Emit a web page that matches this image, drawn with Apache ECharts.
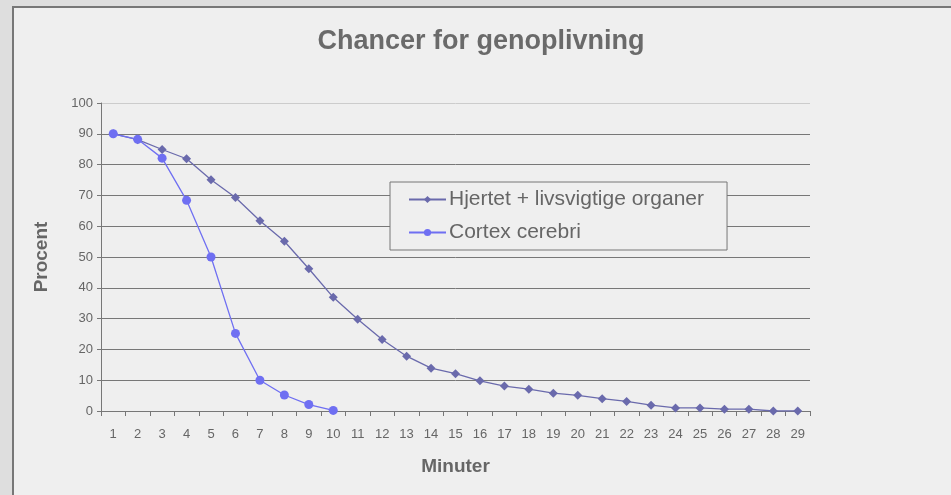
<!DOCTYPE html>
<html><head><meta charset="utf-8">
<script src="https://cdn.jsdelivr.net/npm/echarts@6/dist/echarts.min.js"></script>
<style>html,body{margin:0;padding:0;background:#dedede;}#c{width:951px;height:495px;}</style>
</head><body><div id="c"></div>
<script>
const categories = ['1','2','3','4','5','6','7','8','9','10','11','12','13','14','15','16','17','18','19','20','21','22','23','24','25','26','27','28','29'];
const hjertet = [90, 88.1, 84.9, 81.9, 75.1, 69.3, 61.8, 55.1, 46.2, 36.9, 29.8, 23.2, 17.8, 13.9, 12.1, 9.8, 8.1, 7.1, 5.8, 5.1, 4.0, 3.1, 1.9, 1.0, 1.0, 0.6, 0.6, 0, 0];
const cortex = [90, 88.2, 82.1, 68.4, 50.0, 25.2, 10.0, 5.2, 2.1, 0.2];
const yTicks = [0, 10, 20, 30, 40, 50, 60, 70, 80, 90, 100];

const chart = echarts.init(document.getElementById('c'), null, {renderer: 'canvas'});
const font = 'Liberation Sans, Arial, sans-serif';
chart.setOption({
  backgroundColor: '#dedede',
  animation: false,
  graphic: [{
    type: 'rect', z: -10, silent: true,
    shape: {x: 13, y: 7, width: 945, height: 500},
    style: {fill: '#efefef', stroke: '#777777', lineWidth: 2}
  }],
  title: {
    text: 'Chancer for genoplivning', top: 28, left: 481, textAlign: 'center',
    textStyle: {fontFamily: font, fontSize: 27, fontWeight: 'bold', color: '#6a6a6a'},
    padding: 0
  },
  legend: {
    orient: 'vertical', left: 390, top: 182, width: 337,
    padding: [7, 23, 7, 18], itemGap: 12,
    backgroundColor: '#efefef', borderColor: '#777777', borderWidth: 1,
    itemWidth: 37, itemHeight: 9,
    textStyle: {fontFamily: font, fontSize: 21, color: '#666666', padding: [0, 0, 0, -2]},
    data: [{name: 'Hjertet + livsvigtige organer'}, {name: 'Cortex cerebri'}]
  },
  grid: {left: 101, right: 141, top: 103, bottom: 84},
  xAxis: {
    type: 'category', data: categories, boundaryGap: true,
    name: 'Minuter', nameLocation: 'middle', nameGap: 46,
    nameTextStyle: {fontFamily: font, fontSize: 19, fontWeight: 'bold', color: '#666666'},
    axisLine: {lineStyle: {color: '#777777', width: 1}},
    axisTick: {show: true, alignWithLabel: false, length: 5, lineStyle: {color: '#777777'}},
    axisLabel: {fontFamily: font, fontSize: 13, color: '#666666', margin: 17, interval: 0},
    splitLine: {show: false}
  },
  yAxis: {
    type: 'value', min: 0, max: 100, interval: 10,
    name: 'Procent', nameLocation: 'middle', nameGap: 50, nameRotate: 90,
    nameTextStyle: {fontFamily: font, fontSize: 19, fontWeight: 'bold', color: '#666666'},
    axisLine: {show: true, lineStyle: {color: '#777777', width: 1}},
    axisTick: {show: true, length: 4, lineStyle: {color: '#777777'}},
    axisLabel: {fontFamily: font, fontSize: 13, color: '#666666', margin: 8,
      formatter: v => yTicks.indexOf(v) >= 0 ? String(v) : ''},
    splitLine: {show: true, lineStyle: {color: ['#777777','#777777','#777777','#777777','#777777','#777777','#777777','#777777','#777777','#777777','#cccccc'], width: 1}}
  },
  series: [
    {
      name: 'Hjertet + livsvigtige organer', type: 'line', data: hjertet,
      symbol: 'diamond', symbolSize: 9, showAllSymbol: true,
      itemStyle: {color: '#6a6aac'}, lineStyle: {color: '#6a6aac', width: 1.3}
    },
    {
      name: 'Cortex cerebri', type: 'line', data: cortex,
      symbol: 'circle', symbolSize: 9, showAllSymbol: true,
      itemStyle: {color: '#6f6ff2'}, lineStyle: {color: '#6f6ff2', width: 1.3}
    }
  ]
});
</script></body></html>
